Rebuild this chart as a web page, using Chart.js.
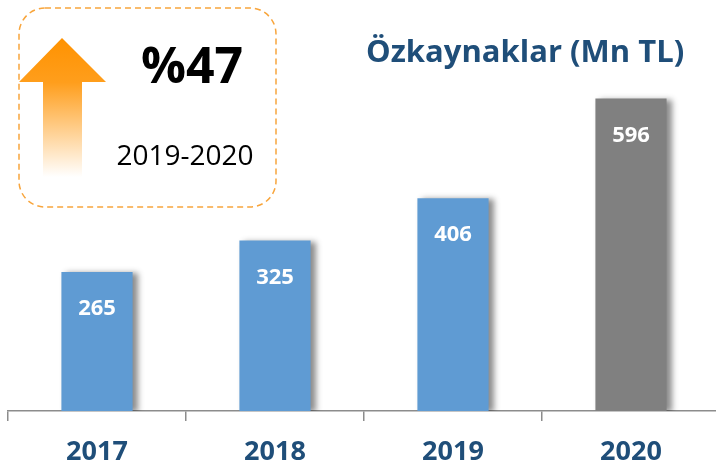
<!DOCTYPE html>
<html><head><meta charset="utf-8">
<script src="https://cdn.jsdelivr.net/npm/chart.js@4"></script>
<style>
html,body{margin:0;padding:0;background:#fff;overflow:hidden}
#wrap{position:relative;width:716px;height:469px;overflow:hidden;background:#fff}
#c{position:absolute;left:0;top:0}
.t{position:absolute;white-space:nowrap;line-height:1;text-align:center;font-family:"Open Sans",sans-serif}
</style></head>
<body>
<div id="wrap">
<canvas id="c" width="724" height="469" style="width:724px;height:469px"></canvas>
<svg width="716" height="469" style="position:absolute;left:0;top:0;pointer-events:none">
<defs>
<linearGradient id="g" gradientUnits="userSpaceOnUse" x1="0" y1="38" x2="0" y2="177">
<stop offset="0" stop-color="#FF9200"/>
<stop offset="0.32" stop-color="#FF9E1C"/>
<stop offset="1" stop-color="#FFFFFF"/>
</linearGradient>
</defs>
<rect x="19" y="8" width="257" height="199" rx="26" ry="26" fill="none" stroke="#F8A53C" stroke-width="1.5" stroke-dasharray="6 4"/>
<polygon points="62,38 106,82 82,82 82,177 43,177 43,82 19,82" fill="url(#g)"/>
</svg>
<div class="t" style="left:92px;top:39px;width:200px;font-size:50px;font-weight:700;color:#000">%47</div>
<div class="t" style="left:85px;top:140px;width:200px;font-size:28px;font-weight:400;color:#000">2019-2020</div>
<div class="t" style="left:366px;top:35px;width:300px;font-size:31px;font-weight:700;color:#1F4E79">Özkaynaklar (Mn TL)</div>
</div>
<script>
const categories = ["2017", "2018", "2019", "2020"];
const values = [265, 325, 406, 596];
const barColors = ["#5F9BD3", "#5F9BD3", "#5F9BD3", "#808080"];

const shadowAndLabels = {
  id: "shadowAndLabels",
  beforeDatasetsDraw(chart) {
    const ctx = chart.ctx;
    ctx.save();
    ctx.shadowColor = "rgba(0,0,0,0.45)";
    ctx.shadowBlur = 6;
    ctx.shadowOffsetX = 5;
    ctx.shadowOffsetY = 1;
  },
  afterDatasetsDraw(chart) {
    const ctx = chart.ctx;
    ctx.restore();
    ctx.save();
    ctx.fillStyle = "#FFFFFF";
    ctx.font = "700 22px 'Open Sans'";
    ctx.textAlign = "center";
    ctx.textBaseline = "middle";
    const meta = chart.getDatasetMeta(0);
    meta.data.forEach((bar, i) => {
      ctx.fillText(String(chart.data.datasets[0].data[i]), bar.x, bar.y + 37);
    });
    ctx.restore();
  }
};

new Chart(document.getElementById("c"), {
  type: "bar",
  data: {
    labels: categories,
    datasets: [{
      data: values,
      backgroundColor: barColors,
      borderWidth: 0,
      categoryPercentage: 1,
      barPercentage: 0.4
    }]
  },
  options: {
    responsive: false,
    devicePixelRatio: 1,
    animation: false,
    layout: { padding: { left: 8, right: 4, top: 44, bottom: 0 } },
    plugins: { legend: { display: false }, tooltip: { enabled: false }, title: { display: false } },
    scales: {
      y: { display: false, min: 0, max: 700 },
      x: {
        afterFit(s) { s.height = 58; },
        grid: { display: true, drawOnChartArea: false, drawTicks: true, tickLength: 10, color: "#8C8C8C", lineWidth: 1.5, offset: true },
        border: { display: true, color: "#8C8C8C", width: 1.5 },
        ticks: { color: "#1F4E79", padding: 15, font: { family: "'Open Sans'", size: 27, weight: "700" } }
      }
    }
  },
  plugins: [shadowAndLabels]
});
</script>
</body></html>
